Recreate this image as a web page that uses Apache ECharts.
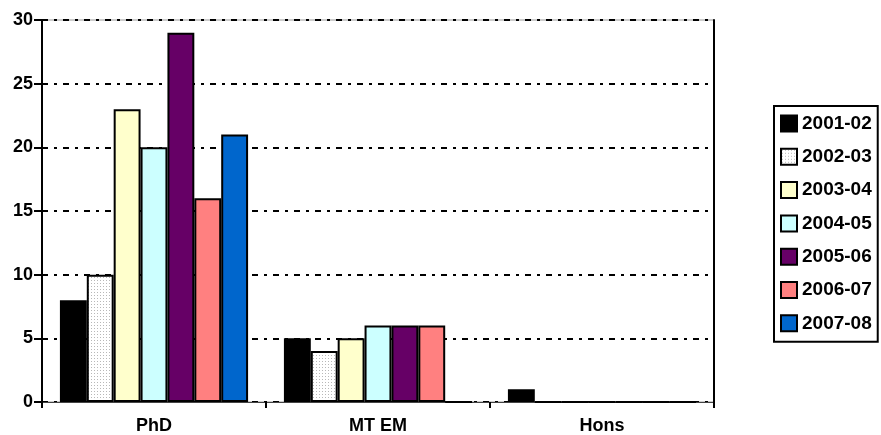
<!DOCTYPE html>
<html>
<head>
<meta charset="utf-8">
<script src="https://cdn.jsdelivr.net/npm/echarts@6/dist/echarts.min.js"></script>
<style>
  html, body { margin: 0; padding: 0; background: #fff; }
  #chart { width: 881px; height: 435px; }
</style>
</head>
<body>
<div id="chart"></div>
<script>
// 数据
const categories = ['PhD', 'MT EM', 'Hons'];
const years = ['2001-02', '2002-03', '2003-04', '2004-05', '2005-06', '2006-07', '2007-08'];
const v2001 = [8, 5, 1];
const v2002 = [10, 4, 0];
const v2003 = [23, 5, 0];
const v2004 = [20, 6, 0];
const v2005 = [29, 6, 0];
const v2006 = [16, 6, 0];
const v2007 = [21, 0, 0];
const yTicks = [0, 5, 10, 15, 20, 25, 30];

const seriesValues = [v2001, v2002, v2003, v2004, v2005, v2006, v2007];

// 点状填充
const dotCanvas = document.createElement('canvas');
dotCanvas.width = 3;
dotCanvas.height = 3;
const dctx = dotCanvas.getContext('2d');
dctx.fillStyle = '#ffffff';
dctx.fillRect(0, 0, 3, 3);
dctx.fillStyle = '#b8b8b8';
dctx.fillRect(1, 1, 1, 1);

const colors = [
  '#000000',
  { image: dotCanvas, repeat: 'repeat' },
  '#FFFFCC',
  '#CCFFFF',
  '#660066',
  '#FF8080',
  '#0066CC'
];

const font = 'Liberation Sans';

const chart = echarts.init(document.getElementById('chart'));

const option = {
  animation: false,
  backgroundColor: '#fff',
  grid: {
    left: 42,
    right: 167,
    top: 20,
    bottom: 33,
    show: true,
    borderColor: '#999',
    borderWidth: 1
  },
  legend: {
    orient: 'vertical',
    left: 774,
    top: 106,
    padding: [8, 6, 9, 6],
    icon: 'rect',
    itemWidth: 16,
    itemHeight: 16,
    itemGap: 14.3,
    borderColor: '#000',
    borderWidth: 2,
    borderRadius: 0,
    textStyle: {
      color: '#000',
      fontFamily: font,
      fontWeight: 'bold',
      fontSize: 19,
      padding: [0, 0, 0, 0]
    },
    data: years
  },
  xAxis: {
    type: 'category',
    data: categories,
    axisLine: { show: true, lineStyle: { color: '#444', width: 1 } },
    axisTick: { show: true, length: 6, lineStyle: { color: '#000', width: 2 } },
    axisLabel: {
      color: '#000',
      fontFamily: font,
      fontWeight: 'bold',
      fontSize: 18,
      margin: 15
    },
    z: 0
  },
  yAxis: [
    {
      type: 'value',
      min: yTicks[0],
      max: yTicks[yTicks.length - 1],
      interval: 5,
      axisLine: { show: true, lineStyle: { color: '#000', width: 2 } },
      axisTick: { show: true, length: 8, lineStyle: { color: '#000', width: 2 } },
      axisLabel: {
        color: '#000',
        fontFamily: font,
        fontWeight: 'bold',
        fontSize: 18,
        margin: 9
      },
      splitLine: {
        show: true,
        lineStyle: { color: '#000', width: 2, type: [6, 6, 3, 6] }
      }
    },
    {
      type: 'value',
      position: 'right',
      min: yTicks[0],
      max: yTicks[yTicks.length - 1],
      interval: 5,
      axisLine: { show: true, lineStyle: { color: '#000', width: 2 } },
      axisTick: { show: false },
      axisLabel: { show: false },
      splitLine: { show: false }
    }
  ],
  series: years.map((name, i) => ({
    name: name,
    type: 'bar',
    data: seriesValues[i],
    barGap: 0,
    barCategoryGap: '16%',
    itemStyle: {
      color: colors[i],
      borderColor: '#000',
      borderWidth: 2
    },
    z: 3
  }))
};

chart.setOption(option);
</script>
</body>
</html>
